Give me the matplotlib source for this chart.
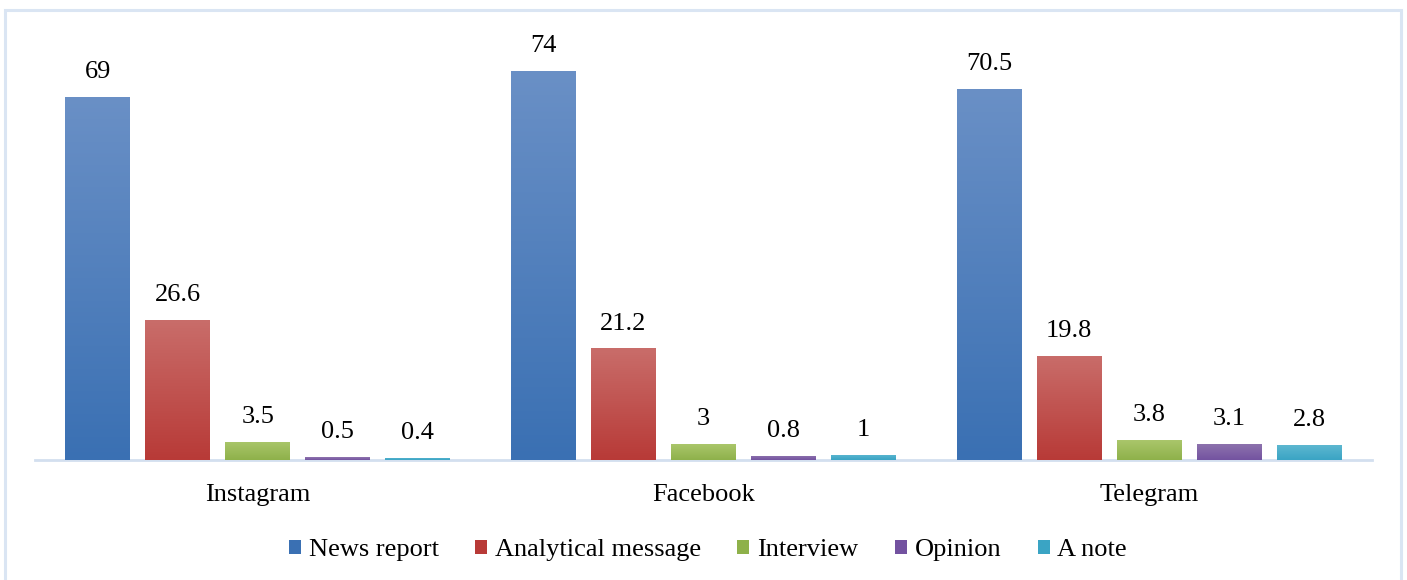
import matplotlib.pyplot as plt
import matplotlib.patches as mpatches
from matplotlib.colors import LinearSegmentedColormap
import numpy as np

# data
platforms = ["Instagram", "Facebook", "Telegram"]
series = ["News report", "Analytical message", "Interview", "Opinion", "A note"]
news_report = [69, 74, 70.5]
analytical = [26.6, 21.2, 19.8]
interview = [3.5, 3, 3.8]
opinion = [0.5, 0.8, 3.1]
a_note = [0.4, 1, 2.8]
labels = [["69", "74", "70.5"], ["26.6", "21.2", "19.8"], ["3.5", "3", "3.8"],
          ["0.5", "0.8", "3.1"], ["0.4", "1", "2.8"]]

# (top colour, bottom colour) for the office-style gradient
colors = [("#6A90C6", "#3A70B3"), ("#C96D6A", "#B83A37"), ("#AAC66B", "#8EB14A"),
          ("#8F75AE", "#7352A0"), ("#5DB7D0", "#3AA4C4")]

plt.rcParams['font.family'] = ['Liberation Serif', 'DejaVu Serif']

fig = plt.figure(figsize=(14.07, 5.8), dpi=100)
W, H = 1407, 580
ax = fig.add_axes([35 / W, 120 / H, (1372 - 35) / W, (460 - 39) / H])

# outer chart border
fig.patches.append(mpatches.Rectangle((5 / W, -0.02), (1401 - 5) / W, (570 + 11.6) / H,
                                      transform=fig.transFigure, fill=False,
                                      edgecolor="#DAE5F3", linewidth=2.2, zorder=0))

x = np.arange(len(platforms))
step = 80 / 446
width = 65 / 446
all_values = [news_report, analytical, interview, opinion, a_note]

grad = np.linspace(0, 1, 256).reshape(-1, 1)
for i, (name, vals) in enumerate(zip(series, all_values)):
    pos = x + (i - 2) * step
    bars = ax.bar(pos, vals, width, color=colors[i][1], label=name, zorder=2)
    cmap = LinearSegmentedColormap.from_list(name, [colors[i][1], colors[i][0]])
    for b in bars:
        bx, by = b.get_x(), b.get_y()
        bw, bh = b.get_width(), b.get_height()
        b.set_facecolor("none")
        b.set_edgecolor("none")
        im = ax.imshow(grad, extent=[bx, bx + bw, by, by + bh], origin="lower",
                       cmap=cmap, aspect="auto", zorder=2)
        im.set_clip_path(b)
    for p, v, t in zip(pos, vals, labels[i]):
        ax.annotate(t, (p, v), xytext=(0, 10), textcoords="offset points",
                    ha="center", va="bottom", fontsize=19)

ax.set_xlim(-0.5, 2.5)
ax.set_ylim(0, 80)
ax.set_xticks(x)
ax.set_xticklabels(platforms, fontsize=19)
ax.tick_params(axis="x", length=0, pad=17)
ax.set_yticks([])
for s in ["top", "right", "left"]:
    ax.spines[s].set_visible(False)
ax.spines["bottom"].set_color("#D3DFEF")
ax.spines["bottom"].set_linewidth(2)
ax.spines["bottom"].set_zorder(1)

handles = [mpatches.Patch(facecolor=c[1], edgecolor="none") for c in colors]
fig.legend(handles, series, loc="center", bbox_to_anchor=(708 / W, 1 - 550 / H),
           ncol=5, frameon=False, fontsize=19, handlelength=0.45, handleheight=0.45,
           handletextpad=0.3, columnspacing=1.38)

fig.savefig("out.png", dpi=100)
